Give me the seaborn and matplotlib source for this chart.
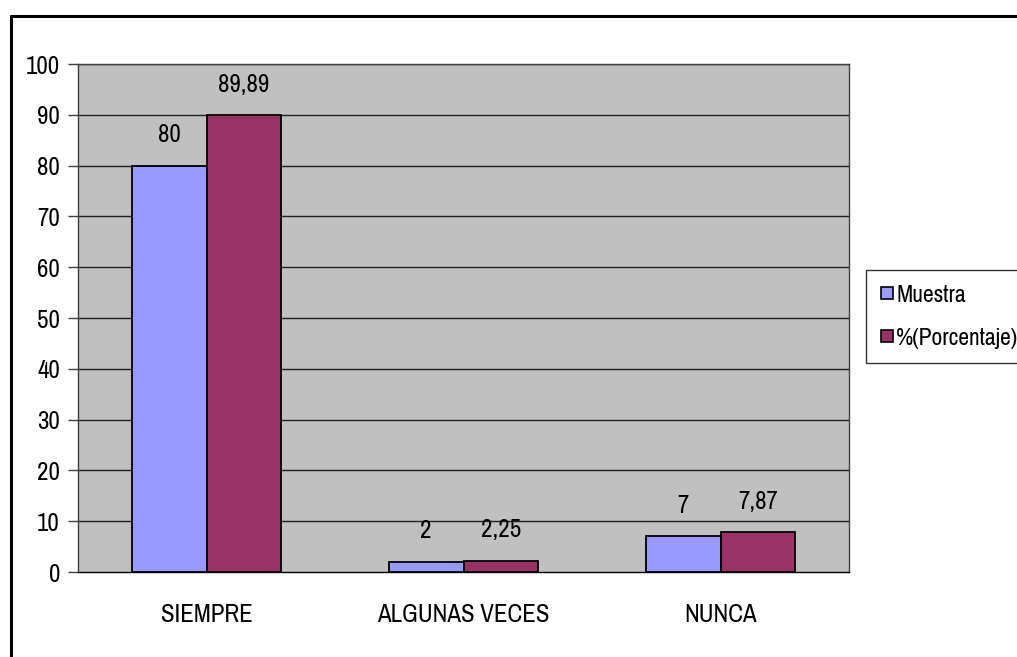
import matplotlib
matplotlib.use("Agg")
import matplotlib.pyplot as plt
from matplotlib import font_manager
from matplotlib.lines import Line2D
import seaborn as sns
import pandas as pd

categories = ["SIEMPRE", "ALGUNAS VECES", "NUNCA"]
series_names = ["Muestra", "%(Porcentaje)"]
muestra = [80, 2, 7]
porcentaje = [89.89, 2.25, 7.87]
yticks = [0, 10, 20, 30, 40, 50, 60, 70, 80, 90, 100]
colors = ["#9999FF", "#993366"]

sns.set_theme(style="white")
fam = "Liberation Sans"
for cand in ["Liberation Sans Narrow", "Arial Narrow", "Pragati Narrow", "Roboto Condensed", "Archivo Narrow"]:
    try:
        font_manager.findfont(cand, fallback_to_default=False)
        fam = cand
        break
    except Exception:
        pass
plt.rcParams["font.family"] = [fam, "DejaVu Sans"]
plt.rcParams["text.color"] = "black"
plt.rcParams["xtick.color"] = "black"
plt.rcParams["ytick.color"] = "black"
plt.rcParams["xtick.labelcolor"] = "black"
plt.rcParams["ytick.labelcolor"] = "black"

df = pd.DataFrame({
    "cat": categories * 2,
    "serie": [series_names[0]] * 3 + [series_names[1]] * 3,
    "val": muestra + porcentaje,
})

W, H = 1017, 657
FS = 19.5
fig = plt.figure(figsize=(W / 100, H / 100), dpi=100)
ax = fig.add_axes([78 / W, 1 - 572 / H, (849 - 78) / W, (572 - 64) / H])
ax.set_facecolor("#C0C0C0")

sns.barplot(data=df, x="cat", y="val", hue="serie", order=categories,
            hue_order=series_names, palette=colors, width=0.58,
            edgecolor="black", linewidth=1.3, saturation=1, ax=ax,
            legend=False, zorder=3)

ax.set_ylim(0, 100)
ax.set_xlim(-0.5, 2.5)
ax.set_yticks(yticks)
ax.set_yticklabels([str(t) for t in yticks], fontsize=FS)
for t in yticks[1:]:
    ax.axhline(t, color="#202020", linewidth=1.0, zorder=1)

ax.set_xticks(range(len(categories)))
ax.set_xticklabels(categories, fontsize=FS)
ax.tick_params(axis="x", which="major", length=0, pad=22)
ax.set_xticks([-0.5, 0.5, 1.5, 2.5], minor=True)
ax.tick_params(axis="x", which="minor", length=8, width=1, color="#404040", direction="out")
ax.tick_params(axis="y", length=7, width=1, color="#404040", direction="out", pad=6, left=True)
ax.set_xlabel("")
ax.set_ylabel("")

for s in ["left", "bottom", "right", "top"]:
    ax.spines[s].set_visible(True)
    ax.spines[s].set_color("#404040")
    ax.spines[s].set_linewidth(1.0)
ax.spines["bottom"].set_color("black")

for cont in ax.containers:
    for bar in cont:
        v = bar.get_height()
        ax.annotate(f"{v:g}".replace(".", ","),
                    (bar.get_x() + bar.get_width() / 2, v),
                    xytext=(0, 14), textcoords="offset points",
                    ha="center", va="bottom", fontsize=FS, color="black")

handles = [Line2D([0], [0], marker="s", linestyle="none", markersize=8,
                  markerfacecolor=c, markeredgecolor="black", markeredgewidth=1.2)
           for c in colors]
leg = fig.legend(handles, series_names, loc="upper left",
                 bbox_to_anchor=(866 / W, 1 - 270 / H), fontsize=18.5,
                 frameon=True, fancybox=False, shadow=False,
                 handlelength=0.5, handletextpad=0.12, labelspacing=0.8,
                 borderpad=0.55, borderaxespad=0)
leg.get_frame().set_edgecolor("black")
leg.get_frame().set_linewidth(1.0)
for t in leg.get_texts():
    t.set_color("black")

# outer chart frame
fig.add_artist(Line2D([11 / W, 11 / W], [0, 1 - 16 / H], color="black", linewidth=2.2, transform=fig.transFigure))
fig.add_artist(Line2D([11 / W, 1], [1 - 16 / H, 1 - 16 / H], color="black", linewidth=2.2, transform=fig.transFigure))

fig.savefig("out.png", dpi=100)
